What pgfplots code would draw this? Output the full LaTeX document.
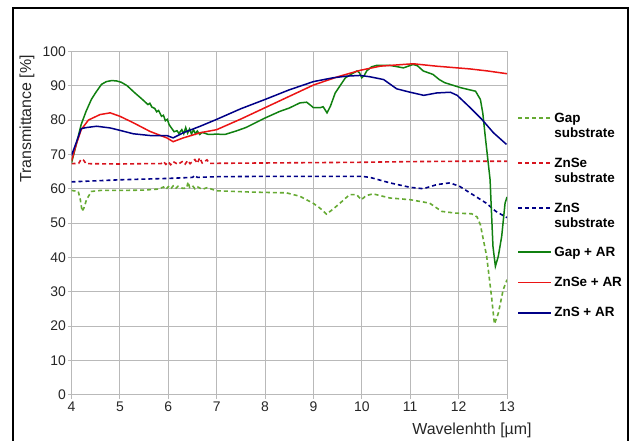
\documentclass[border=0pt]{standalone}
\usepackage{pgfplots}
\pgfplotsset{compat=1.18}
\usepackage{fontspec}
\setmainfont{Liberation Sans}
\definecolor{gapsub}{RGB}{102,170,51}
\definecolor{gapar}{RGB}{16,128,16}
\definecolor{myred}{RGB}{235,20,20}
\definecolor{mydred}{RGB}{215,20,30}
\definecolor{mynavy}{RGB}{0,0,135}
\definecolor{gridgray}{RGB}{185,185,185}
\pgfplotsset{
  sol/.style={line width=1.5bp},
  dsh/.style={line width=1.6bp, dash pattern=on 4bp off 3bp},
  subleg/.style={legend image code/.code={\draw[##1] (0bp,0bp) -- (33bp,0bp); \path[draw=none] (0bp,-22bp) rectangle (1bp,0bp);}},
}
\begin{document}
\begin{tikzpicture}
\useasboundingbox (0,0) rectangle (630bp,441bp);
\draw[line width=1.6bp] (13bp,-5bp) -- (13bp,433bp) -- (628bp,433bp) -- (628bp,-5bp);
\begin{axis}[
  at={(71.5bp,46.3bp)}, anchor=south west,
  scale only axis, width=435.5bp, height=343.3bp,
  xmin=4, xmax=13, ymin=0, ymax=100,
  xtick={4,5,...,13}, ytick={0,10,...,100},
  grid=major,
  major grid style={gridgray, line width=1bp},
  axis line style={gridgray, line width=1bp},
  tick style={gridgray, line width=1bp},
  tick align=outside, major tick length=4bp,
  xtick pos=left, ytick pos=left,
  /pgf/number format/assume math mode=true,
  ticklabel style={font=\fontsize{14}{16}\selectfont, text=black!85},
  yticklabel style={xshift=2bp},
  xlabel={Wavelenhth [µm]},
  ylabel={Transmittance [\%]},
  label style={font=\fontsize{16}{18}\selectfont, text=black!85},
  xlabel style={at={(axis description cs:1.057,-0.103)}, anchor=east, inner sep=0pt},
  ylabel style={at={(axis description cs:-0.102,0.99)}, anchor=east, inner sep=0pt},
  legend style={draw=none, fill=none, at={(axis description cs:1.023,0.832)}, anchor=north west,
    font=\bfseries\fontsize{13.5}{15}\selectfont, row sep=14.5bp, inner sep=0pt,
    nodes={inner sep=2.5bp}},
  legend cell align=left,
  legend image code/.code={\draw[#1] (0bp,0bp) -- (33bp,0bp);},
]
% Gap substrate
\addplot[gapsub, dsh, subleg] coordinates {
(4.0,59.5) (4.14,59.2) (4.18,57) (4.22,53.4) (4.26,54.5) (4.31,56.8) (4.41,59.2) (4.6,59.5) (5.0,59.5) (5.5,59.6) (5.8,59.9) (5.9,60.5) (5.95,59.8) (6.0,60.6) (6.05,59.9) (6.1,60.8) (6.15,60.0) (6.2,60.7) (6.3,60.1) (6.38,60.2) (6.41,62.0) (6.44,60.4) (6.5,60.9) (6.55,60.0) (6.6,60.6) (6.7,59.8) (6.8,60.3) (7.0,59.4) (7.76,59.0) (8.44,58.8) (8.72,57.8) (8.99,55.8) (9.13,54.4) (9.27,52.6) (9.4,54) (9.55,55.8) (9.75,58.3) (9.89,58.3) (9.99,56.8) (10.09,58) (10.23,58.5) (10.58,57.3) (11.0,56.8) (11.4,55.8) (11.65,53.4) (11.93,52.9) (12.27,52.7) (12.38,51.8) (12.45,49.5) (12.58,40.3) (12.68,28.6) (12.74,20.6) (12.82,23.7) (12.92,30.5) (13.0,33.5)
};
\addlegendentry{\begin{tabular}[t]{@{}l@{}}Gap\\substrate\end{tabular}}
% ZnSe substrate
\addplot[mydred, dsh, subleg] coordinates {
(4.0,67.3) (4.15,67.4) (4.2,68.6) (4.25,68.3) (4.3,67.3) (5.0,67.2) (5.5,67.3) (5.85,67.3) (5.9,67.9) (5.95,67.1) (6.0,67.8) (6.05,67.0) (6.1,67.9) (6.2,67.1) (6.3,68.0) (6.35,67.2) (6.4,68.2) (6.45,67.3) (6.55,68.5) (6.6,67.4) (6.65,69.0) (6.7,67.5) (6.8,68.4) (6.85,67.4) (7.0,67.4) (8,67.5) (9,67.6) (10,67.7) (11,67.9) (12,68) (13,68)
};
\addlegendentry{\begin{tabular}[t]{@{}l@{}}ZnSe\\substrate\end{tabular}}
% ZnS substrate
\addplot[mynavy, dsh, subleg] coordinates {
(4.0,62) (4.5,62.3) (5.0,62.6) (5.5,62.8) (6.0,63.0) (6.5,63.3) (6.55,63.9) (6.6,63.3) (7.0,63.5) (8.0,63.6) (9.0,63.6) (10.0,63.6) (10.17,63.3) (10.58,61.7) (11.0,60.4) (11.27,60.0) (11.55,61.2) (11.82,61.7) (12.02,60.7) (12.29,58.3) (12.57,55.8) (12.77,53.4) (12.97,51.8) (13.0,51.6)
};
\addlegendentry{\begin{tabular}[t]{@{}l@{}}ZnS\\substrate\end{tabular}}
% Gap + AR
\addplot[gapar, sol] coordinates {
(4.0,67.5) (4.1,73) (4.2,78.7) (4.3,82.5) (4.41,86) (4.5,88) (4.62,90.4) (4.72,91.2) (4.83,91.5) (4.93,91.4) (5.03,91) (5.15,90) (5.31,87.9) (5.45,86.2) (5.58,84.5) (5.62,84.9) (5.66,83.8) (5.72,83.4) (5.76,82.4) (5.8,82.8) (5.86,81.1) (5.9,81.4) (5.94,79.8) (5.98,80.2) (6.02,78.6) (6.07,77.6) (6.12,76.6) (6.18,76.9) (6.22,76.1) (6.28,77.2) (6.32,76.0) (6.36,77.8) (6.4,76.2) (6.44,77.4) (6.48,75.9) (6.52,77.2) (6.56,76.0) (6.6,76.8) (6.65,75.8) (6.7,76.4) (6.83,75.8) (7.0,75.9) (7.17,75.8) (7.4,76.8) (7.6,77.8) (8.0,80.6) (8.3,82.5) (8.5,83.5) (8.72,85) (8.86,85.2) (8.95,84.2) (9.0,83.6) (9.14,83.6) (9.2,83.9) (9.28,82.1) (9.35,84) (9.45,87.9) (9.55,90) (9.66,92.3) (9.8,93.5) (9.9,94.3) (9.95,93.8) (10.0,92.3) (10.05,93) (10.1,94.3) (10.2,95.5) (10.3,95.9) (10.59,95.9) (10.86,95.2) (11.06,96.2) (11.15,95.8) (11.27,94.3) (11.47,93.3) (11.6,91.8) (11.71,90.9) (12.05,89.4) (12.35,88.4) (12.45,86) (12.5,82) (12.55,75.3) (12.65,62.7) (12.68,52.9) (12.71,43.2) (12.76,37.4) (12.82,40.3) (12.89,46.1) (12.96,55.8) (13.0,57.6)
};
\addlegendentry{Gap + AR}
% ZnSe + AR
\addplot[myred, sol] coordinates {
(4.0,68) (4.1,73) (4.2,77.2) (4.35,80) (4.59,81.6) (4.8,82.1) (5.0,81.1) (5.28,79.2) (5.62,76.7) (5.97,74.8) (6.1,73.7) (6.31,74.8) (6.66,76.3) (7.0,77.2) (7.5,80.3) (8.0,83.6) (8.5,86.9) (9.0,90.2) (9.5,92.6) (9.97,94.5) (10.38,95.7) (11.06,96.4) (11.54,95.7) (12.23,94.9) (12.6,94.3) (13.0,93.5)
};
\addlegendentry{ZnSe + AR}
% ZnS + AR
\addplot[mynavy, sol] coordinates {
(4.0,69.7) (4.1,73.5) (4.2,77.5) (4.3,77.8) (4.52,78.2) (4.8,77.7) (5.0,77) (5.28,76) (5.62,75.5) (5.97,75.5) (6.1,74.8) (6.31,76.3) (6.66,78.2) (7.0,80.2) (7.5,83.3) (8.0,86) (8.5,88.8) (9.0,91.2) (9.4,92.3) (9.69,92.8) (9.97,93.0) (10.17,92.6) (10.45,91.8) (10.72,89.1) (11.0,88.1) (11.28,87.2) (11.55,87.9) (11.83,88.1) (11.97,87.2) (12.24,83.6) (12.48,80.2) (12.72,76.3) (12.99,72.9)
};
\addlegendentry{ZnS + AR}
\end{axis}
\end{tikzpicture}
\end{document}
